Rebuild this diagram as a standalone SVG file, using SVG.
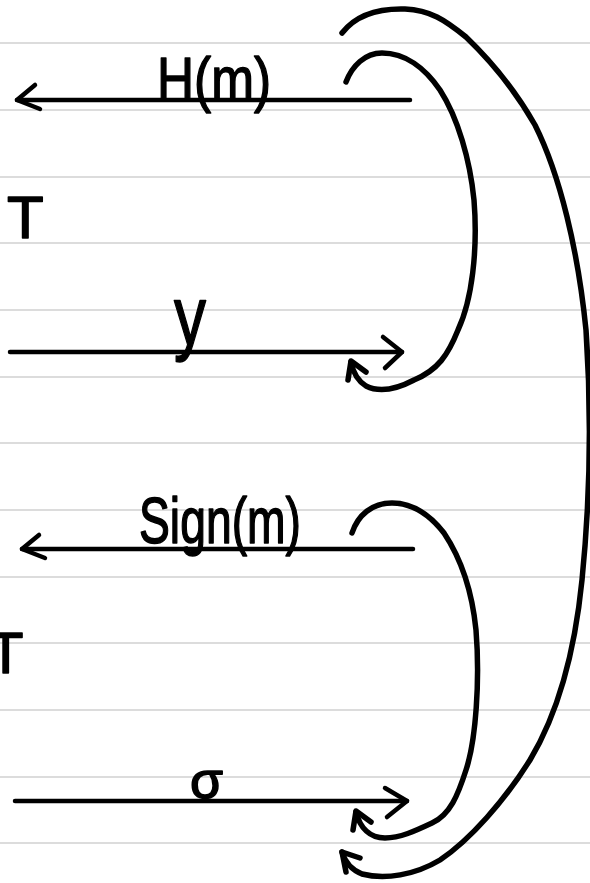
<svg xmlns="http://www.w3.org/2000/svg" width="590" height="883" viewBox="0 0 590 883">
<style>
.rule{stroke:#dcdcdc;stroke-width:2;fill:none}
.ln{stroke:#000;stroke-width:4.5;fill:none;stroke-linecap:round;stroke-linejoin:round}
.cv{stroke:#000;stroke-width:5.5;fill:none;stroke-linecap:round;stroke-linejoin:round}
.lbl{font-family:"Liberation Sans","DejaVu Sans",sans-serif;fill:#000;stroke:#000;stroke-width:1.5;stroke-linejoin:round}
</style>
<rect width="590" height="883" fill="#fff"/>
<g id="ruled-lines">
<line class="rule" x1="0" y1="43" x2="590" y2="43"/>
<line class="rule" x1="0" y1="110" x2="590" y2="110"/>
<line class="rule" x1="0" y1="177" x2="590" y2="177"/>
<line class="rule" x1="0" y1="243" x2="590" y2="243"/>
<line class="rule" x1="0" y1="310" x2="590" y2="310"/>
<line class="rule" x1="0" y1="377" x2="590" y2="377"/>
<line class="rule" x1="0" y1="443" x2="590" y2="443"/>
<line class="rule" x1="0" y1="510" x2="590" y2="510"/>
<line class="rule" x1="0" y1="577" x2="590" y2="577"/>
<line class="rule" x1="0" y1="643" x2="590" y2="643"/>
<line class="rule" x1="0" y1="710" x2="590" y2="710"/>
<line class="rule" x1="0" y1="777" x2="590" y2="777"/>
<line class="rule" x1="0" y1="843" x2="590" y2="843"/>
</g>
<g id="node-T-top"><text class="lbl" x="7" y="238" font-size="60">T</text></g>
<g id="node-T-bottom"><text class="lbl" x="-12" y="673" font-size="58">T</text></g>
<g id="connectors">
<path class="ln" d="M410,100 L17,100"/>
<path class="ln" d="M35,85 L17,100 L40,109"/>
<path class="ln" d="M10,352 L402,352"/>
<path class="ln" d="M383,337 L402,352 L385,368"/>
<path class="ln" d="M413,549 L22,549"/>
<path class="ln" d="M39,535 L22,549 L45,558"/>
<path class="ln" d="M15,801 L407,801"/>
<path class="ln" d="M385,788 L407,801 L387,817"/>
<path class="cv" d="M346,82 C352,66 365,53 382,53 C405,53 425,68 440,90 C458,118 470,160 474,200 C478,250 472,300 458,330 C448,355 438,370 414,380 C395,390 378,392 366,386 C358,381 353,372 351,362"/>
<path class="cv" d="M348,380 L351,361 L366,372"/>
<path class="cv" d="M342,33 C352,20 370,8 405,9 C430,10 445,20 466,37 C490,60 515,90 535,125 C560,175 578,250 586,330 C592,420 590,500 582,580 C575,650 560,710 530,760 C505,800 470,840 440,860 C415,875 385,880 362,874 C352,870 345,862 342,852"/>
<path class="cv" d="M346,872 L342,852 L360,858"/>
<path class="cv" d="M352,533 C358,515 372,503 392,503 C412,503 430,515 444,533 C462,560 472,590 476,630 C480,680 476,740 466,770 C458,795 450,815 432,823 C415,831 400,838 385,838 C370,838 360,828 356,812"/>
<path class="cv" d="M353,830 L356,811 L371,822"/>
</g>
<g id="label-Hm"><text class="lbl" x="157" y="100" font-size="62" textLength="114" lengthAdjust="spacingAndGlyphs">H(m)</text></g>
<g id="label-y"><text class="lbl" x="174" y="345" font-size="84" textLength="32" lengthAdjust="spacingAndGlyphs">y</text></g>
<g id="label-Signm"><text class="lbl" x="139" y="543" font-size="64" textLength="162" lengthAdjust="spacingAndGlyphs">Sign(m)</text></g>
<g id="label-sigma"><text class="lbl" x="190" y="798" font-size="52" textLength="33" lengthAdjust="spacingAndGlyphs">σ</text></g>
</svg>
